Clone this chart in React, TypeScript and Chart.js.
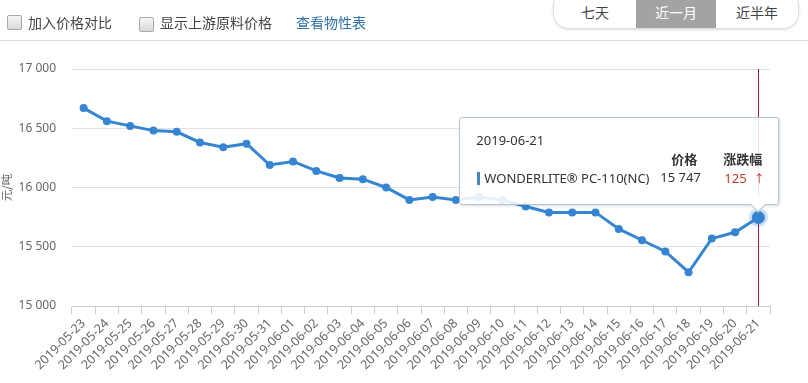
import React, { useEffect, useRef, useState } from 'react';
import { Chart, registerables } from 'chart.js';

Chart.register(...registerables);

const dates = [
  '2019-05-23', '2019-05-24', '2019-05-25', '2019-05-26', '2019-05-27', '2019-05-28',
  '2019-05-29', '2019-05-30', '2019-05-31', '2019-06-01', '2019-06-02', '2019-06-03',
  '2019-06-04', '2019-06-05', '2019-06-06', '2019-06-07', '2019-06-08', '2019-06-09',
  '2019-06-10', '2019-06-11', '2019-06-12', '2019-06-13', '2019-06-14', '2019-06-15',
  '2019-06-16', '2019-06-17', '2019-06-18', '2019-06-19', '2019-06-20', '2019-06-21',
];
const prices = [
  16670, 16560, 16520, 16480, 16470, 16380,
  16340, 16370, 16190, 16220, 16140, 16080,
  16070, 16000, 15895, 15920, 15895, 15920,
  15895, 15840, 15790, 15790, 15790, 15650,
  15555, 15460, 15285, 15570, 15622, 15747,
];
const seriesName = 'WONDERLITE® PC-110(NC)';
const yMin = 15000;
const yMax = 17000;
const yStep = 500;
const yTitle = '元/吨';
const checkLabels = ['加入价格对比', '显示上游原料价格'];
const linkLabel = '查看物性表';
const rangeButtons = ['七天', '近一月', '近半年'];
const activeRange = 1;
const tipHeaders = ['价格', '涨跌幅'];

const LINE = '#3585d3';
const FONT = '"Noto Sans", "Noto Sans CJK SC", sans-serif';
const CJK = '"Noto Sans CJK SC", "Noto Sans", sans-serif';

const fmt = (v: number) => String(v).replace(/\B(?=(\d{3})+(?!\d))/g, ' ');

const crosshair = {
  id: 'crosshair',
  beforeDatasetsDraw(chart: any) {
    const meta = chart.getDatasetMeta(0);
    const pt = meta.data[meta.data.length - 1];
    if (!pt) return;
    const { ctx, chartArea } = chart;
    const x = Math.round(pt.x) + 0.5;
    ctx.save();
    ctx.strokeStyle = '#9e1f1f';
    ctx.lineWidth = 1;
    ctx.beginPath();
    ctx.moveTo(x, chartArea.top);
    ctx.lineTo(x, chartArea.bottom);
    ctx.stroke();
    ctx.restore();
  },
};

export default function App() {
  const ref = useRef<HTMLCanvasElement | null>(null);
  const [tip, setTip] = useState<{ x: number; y: number } | null>(null);

  useEffect(() => {
    if (!ref.current) return;
    const last = prices.length - 1;
    const chart = new Chart(ref.current, {
      type: 'line',
      data: {
        labels: dates,
        datasets: [
          {
            label: seriesName,
            data: prices,
            borderColor: LINE,
            backgroundColor: LINE,
            borderWidth: 3,
            tension: 0,
            pointRadius: (c: any) => (c.dataIndex === last ? 6.5 : 4),
            pointBackgroundColor: LINE,
            pointBorderColor: (c: any) => (c.dataIndex === last ? 'rgba(53,133,211,0.25)' : LINE),
            pointBorderWidth: (c: any) => (c.dataIndex === last ? 6 : 0),
          },
        ],
      },
      options: {
        animation: false,
        responsive: false,
        devicePixelRatio: 1,
        layout: { padding: { top: 69, right: 38, left: 0, bottom: 0 } },
        plugins: { legend: { display: false }, tooltip: { enabled: false } },
        events: [],
        scales: {
          x: {
            offset: true,
            afterFit: (s: any) => { s.height = 77; },
            grid: { display: true, drawOnChartArea: false, drawTicks: true, tickLength: 8, offset: true, color: '#cccccc' },
            border: { display: true, color: '#cccccc' },
            ticks: {
              autoSkip: false,
              minRotation: 45,
              maxRotation: 45,
              padding: 2,
              color: '#666666',
              font: { family: FONT, size: 12.5 },
            },
          },
          y: {
            min: yMin,
            max: yMax,
            afterFit: (s: any) => { s.width = 72; },
            grid: { color: '#e2e2e2', drawTicks: false },
            border: { display: false },
            ticks: {
              stepSize: yStep,
              padding: 16,
              color: '#666666',
              font: { family: FONT, size: 12 },
              callback: (v: any) => fmt(Number(v)),
            },
            title: {
              display: true,
              text: yTitle,
              color: '#666666',
              padding: 0,
              font: { family: CJK, size: 11.5 },
            },
          },
        },
      },
      plugins: [crosshair],
    } as any);
    const meta = chart.getDatasetMeta(0);
    const p = meta.data[last] as any;
    setTip({ x: p.x, y: p.y });
    return () => chart.destroy();
  }, []);

  const last = prices.length - 1;
  const change = prices[last] - prices[last - 1];
  const boxW = 320;
  const boxH = 88;

  const checkbox = (
    <span
      style={{
        display: 'inline-block',
        width: 13,
        height: 13,
        border: '1px solid #a9a9a9',
        borderRadius: 2,
        background: 'linear-gradient(#f6f6f6, #d9d9d9)',
        verticalAlign: 'middle',
      }}
    />
  );

  return (
    <div style={{ position: 'fixed', left: 0, top: 0, width: 808, height: 383, background: '#fff', overflow: 'hidden' }}>
      <canvas ref={ref} width={808} height={383} style={{ position: 'absolute', left: 0, top: 0, width: 808, height: 383 }} />
      <div style={{ position: 'absolute', left: 0, top: 40, width: 808, height: 1, background: '#dddddd' }} />
      <div style={{ position: 'absolute', left: 7, top: 12, fontFamily: CJK, fontSize: 14, color: '#444', display: 'flex', alignItems: 'center', whiteSpace: 'nowrap' }}>
        {checkbox}
        <span style={{ marginLeft: 6 }}>{checkLabels[0]}</span>
        <span style={{ marginLeft: 27 }}>{checkbox}</span>
        <span style={{ marginLeft: 6 }}>{checkLabels[1]}</span>
        <span style={{ marginLeft: 24, color: '#2f6fa8' }}>{linkLabel}</span>
      </div>
      <div
        style={{
          position: 'absolute', left: 553, top: -10, width: 244, height: 37,
          border: '1px solid #dcdcdc', borderRadius: 16, boxShadow: '0 1px 3px rgba(0,0,0,0.12)',
          overflow: 'hidden', display: 'flex', background: '#fff',
        }}
      >
        {rangeButtons.map((b, i) => (
          <div
            key={b}
            style={{
              width: i === 1 ? 80 : 82, height: 37, paddingTop: 11, boxSizing: 'border-box',
              textAlign: 'center', fontFamily: CJK, fontSize: 14,
              background: i === activeRange ? '#a3a3a3' : '#fff',
              color: i === activeRange ? '#fff' : '#444',
            }}
          >
            {b}
          </div>
        ))}
      </div>
      {tip && (
        <div
          style={{
            position: 'absolute', left: tip.x + 21 - boxW, top: tip.y - 12 - boxH, width: boxW, height: boxH,
            boxSizing: 'border-box', background: 'rgba(255,255,255,0.88)', border: '1px solid #b3c3d3',
            borderRadius: 3, boxShadow: '1px 1px 3px rgba(0,0,0,0.15)', fontFamily: FONT, color: '#333',
          }}
        >
          <div style={{ position: 'absolute', left: tip.x - (tip.x + 21 - boxW) - 7, top: boxH - 8, width: 11, height: 11, background: '#fff', borderRight: '1px solid #b3c3d3', borderBottom: '1px solid #b3c3d3', transform: 'rotate(45deg)' }} />
          <div style={{ position: 'absolute', left: 16, top: 13, fontSize: 13 }}>{dates[last]}</div>
          <div style={{ position: 'absolute', left: 211, top: 31, fontSize: 13, fontWeight: 'bold', fontFamily: CJK }}>{tipHeaders[0]}</div>
          <div style={{ position: 'absolute', left: 263, top: 31, fontSize: 13, fontWeight: 'bold', fontFamily: CJK }}>{tipHeaders[1]}</div>
          <div style={{ position: 'absolute', left: 17, top: 54, width: 3, height: 13, background: '#4a84b8' }} />
          <div style={{ position: 'absolute', left: 24, top: 51, fontSize: 13 }}>{seriesName}</div>
          <div style={{ position: 'absolute', left: 200, top: 50, fontSize: 13 }}>{fmt(prices[last])}</div>
          <div style={{ position: 'absolute', left: 264, top: 51, fontSize: 13, color: '#c0392b' }}>
            {fmt(Math.abs(change))}
            <span style={{ marginLeft: 7, fontSize: 11 }}>{change >= 0 ? '↑' : '↓'}</span>
          </div>
        </div>
      )}
    </div>
  );
}
